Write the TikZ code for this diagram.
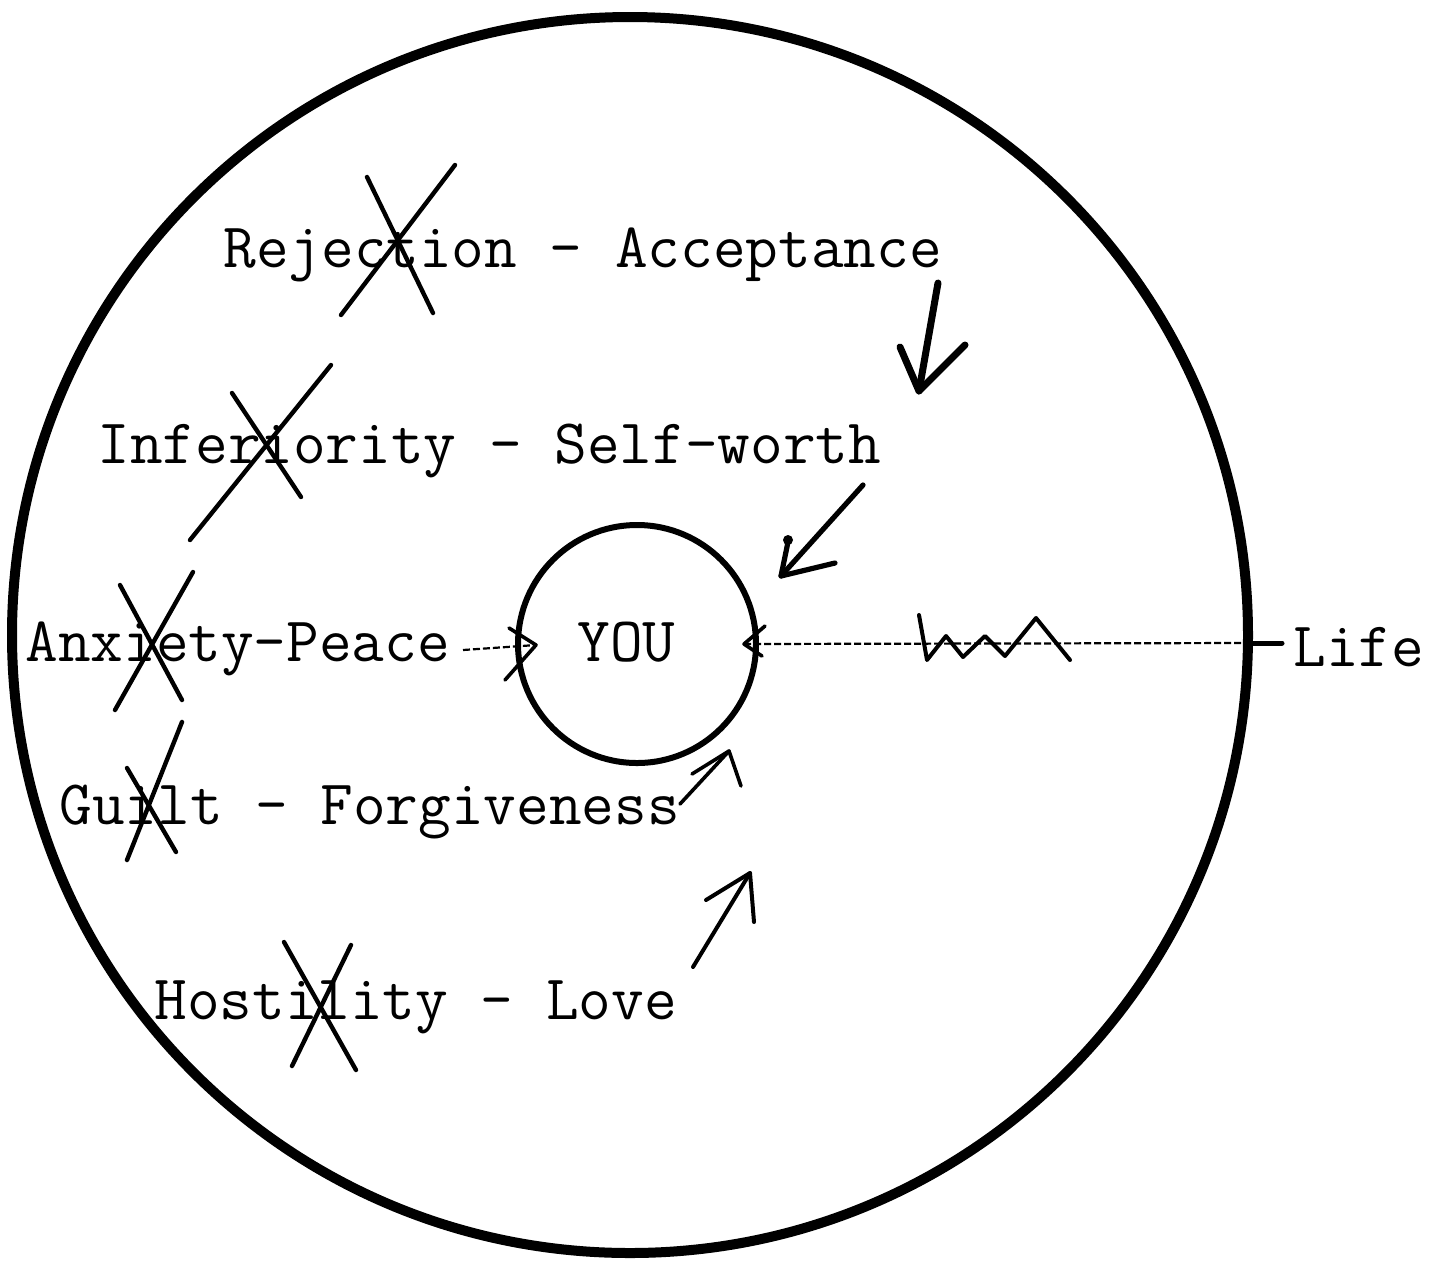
\documentclass[tikz,border=0pt]{standalone}
\begin{document}
\begin{tikzpicture}[x=0.5pt,y=-0.5pt,
  txt/.style={anchor=base west,inner sep=0pt,font=\fontsize{31.7pt}{31.7pt}\ttfamily},
  ring/.style={draw,circle,inner sep=0pt},
  cross/.style={line width=2.2pt,line cap=round},
  pen/.style={line width=#1,line cap=round,line join=round},
  dots/.style={line width=1.1pt,dash pattern=on 3.5pt off 1.5pt}]
\useasboundingbox (0,0) rectangle (1446,1260);
% circles
\node[ring,line width=5pt,minimum size=618pt] (outer) at (630,635) {};
\node[ring,line width=3pt,minimum size=119pt] (youc) at (637,644) {};
% texts
\node[txt] (you) at (577,661) {YOU};
\node[txt] (rej) at (223,267) {Rejection - Acceptance};
\node[txt] (inf) at (97,463) {Inferiority - Self-worth};
\node[txt] (anx) at (25,661) {Anxiety-Peace};
\node[txt] (gui) at (59,824) {Guilt - Forgiveness};
\node[txt] (hos) at (154,1019) {Hostility - Love};
\node[txt] (life) at (1293,666) {Life};
% crosses
\draw[cross] (367,177) -- (433,313);
\draw[cross] (455,165) -- (341,315);
\draw[cross] (232,393) -- (301,497);
\draw[cross] (331,365) -- (190,540);
\draw[cross] (120,585) -- (182,700);
\draw[cross] (193,572) -- (115,710);
\draw[cross] (127,768) -- (176,852);
\draw[cross] (182,722) -- (127,860);
\draw[cross] (284,942) -- (356,1070);
\draw[cross] (351,945) -- (292,1066);
% arrow from Acceptance
\coordinate (a1t) at (938,283);
\coordinate (a1h) at (919,391);
\draw[pen=3.5pt] (a1t) -- (a1h);
\draw[pen=3.5pt] (900,347) -- (a1h) -- (965,345);
% arrow from Self-worth
\coordinate (a2t) at (863,485);
\coordinate (a2h) at (781,576);
\draw[pen=2.6pt] (a2t) -- (a2h);
\draw[pen=2.6pt] (788,542) -- (a2h) -- (835,563);
\fill (788,540) circle (2.5pt);
% arrow from Peace
\coordinate (a3t) at (463,650);
\coordinate (a3h) at (536,645);
\draw[dots] (a3t) -- (a3h);
\draw[pen=1.8pt] (509,628) -- (a3h) -- (505,680);
% arrow from Forgiveness
\coordinate (a5t) at (680,804);
\coordinate (a5h) at (729,751);
\draw[pen=1.8pt] (a5t) -- (a5h);
\draw[pen=1.8pt] (692,774) -- (a5h) -- (741,786);
% arrow from Love
\coordinate (a6t) at (693,967);
\coordinate (a6h) at (750,873);
\draw[pen=2pt] (a6t) -- (a6h);
\draw[pen=2pt] (706,900) -- (a6h) -- (754,922);
% Life line
\coordinate (lifeL) at (1248,643);
\coordinate (lifeR) at (1282,643);
\coordinate (lh) at (744,644);
\draw[pen=2.5pt] (lifeL) -- (lifeR);
\draw[dots] (lh) -- (lifeL);
\draw[pen=1.8pt] (765,626) -- (lh) -- (762,656);
\draw[pen=2pt] (919,615) -- (927,660) -- (946,636) -- (963,657) -- (985,636) -- (1005,656) -- (1036,618) -- (1070,660);
\end{tikzpicture}
\end{document}
